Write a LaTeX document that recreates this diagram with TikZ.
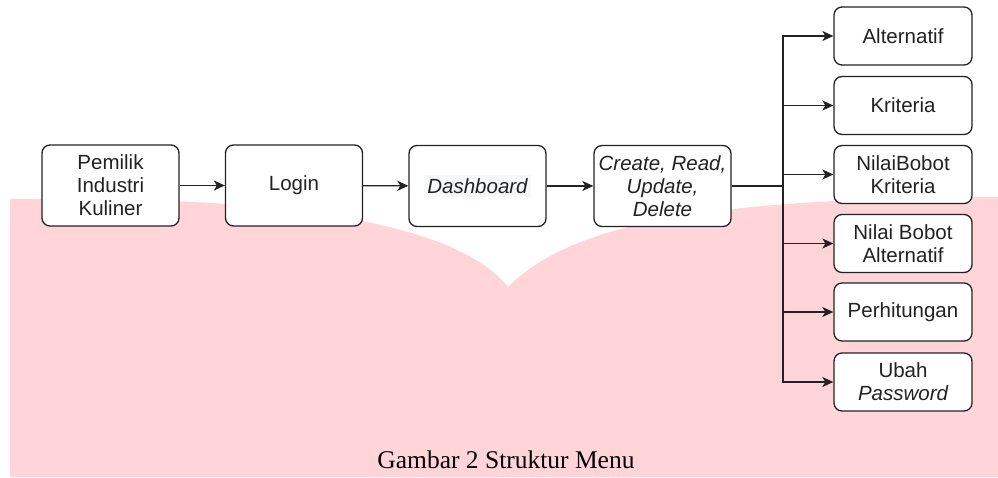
\documentclass[tikz,border=0pt]{standalone}
\usepackage{fontspec}
\setmainfont{Liberation Sans}
\newfontfamily\capfont{Liberation Serif}
\usetikzlibrary{arrows.meta}
\definecolor{bgpink}{HTML}{FFD5D9}
\definecolor{ink}{HTML}{222222}
\definecolor{hl}{HTML}{F7F8F9}
\tikzset{
  box/.style={draw=ink, line width=1.3pt, rounded corners=8pt, fill=white,
    align=center, inner sep=0pt, text=ink,
    font=\fontsize{20.5}{23}\selectfont},
  mainbox/.style={box, minimum width=137pt, minimum height=81pt},
  menubox/.style={box, minimum width=138pt, minimum height=58pt},
  conn/.style={draw=ink, line width=1.3pt},
  arr/.style={conn, -{Stealth[length=11pt,width=10pt,inset=3pt]}}
}
\begin{document}
\begin{tikzpicture}[x=1pt,y=-1pt]
\useasboundingbox (0,0) rectangle (998,477);
\fill[white] (0,0) rectangle (998,477);
\fill[bgpink] (10,477) -- (10,199)
  .. controls (250,196) and (450,215) .. (508,287)
  .. controls (570,225) and (700,198) .. (998,197)
  -- (998,477) -- cycle;

\node[mainbox] (b1) at (110.5,185.5) {Pemilik\\Industri\\Kuliner};
\node[mainbox] (b2) at (294,185.5) {Login};
\node[mainbox] (b3) at (477.5,186) {\colorbox{hl}{\itshape Dashboard}};
\node[mainbox] (b4) at (662.5,186) {\itshape Create, Read,\\\itshape Update,\\\itshape Delete};

\node[menubox] (r1) at (903,36) {Alternatif};
\node[menubox] (r2) at (903,105.5) {Kriteria};
\node[menubox] (r3) at (903,174.5) {NilaiBobot\\Kriteria};
\node[menubox] (r4) at (903,243.5) {Nilai Bobot\\Alternatif};
\node[menubox] (r5) at (903,312) {Perhitungan};
\node[menubox] (r6) at (903,382) {Ubah\\\itshape Password};

\draw[arr] (b1) -- (b2);
\draw[arr] (b2) -- (b3);
\draw[arr] (b3) -- (b4);

\coordinate (j) at (783,186);
\draw[conn] (b4.east) -- (j);
\foreach \r in {r1,r2,r3,r4,r5,r6}{
  \draw[arr] (j) |- (\r.west);
}

\node[font=\capfont\fontsize{25.5}{28}\selectfont, text=black] (cap) at (506,460) {Gambar 2 Struktur Menu};
\end{tikzpicture}
\end{document}
